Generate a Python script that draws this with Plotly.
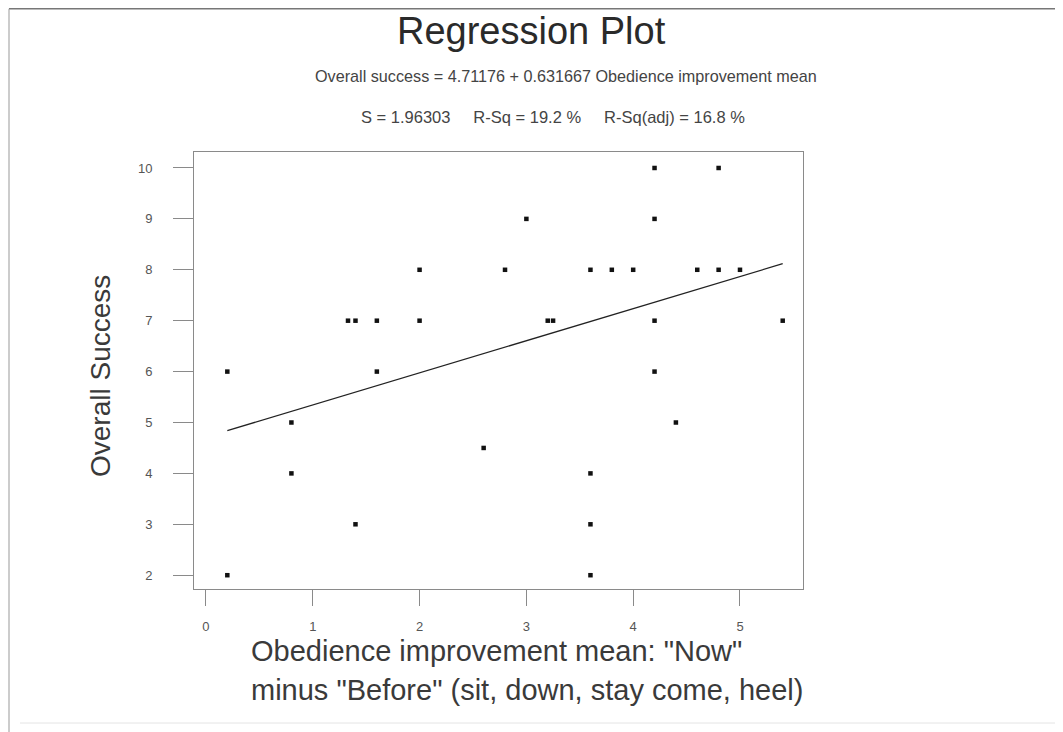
import plotly.graph_objects as go

# ---- data ----
obedience_x = [0.2, 0.2, 0.8, 0.8, 1.33, 1.4, 1.4, 1.6, 1.6, 2.0, 2.0, 2.6, 2.8, 3.0,
               3.2, 3.25, 3.6, 3.6, 3.6, 3.6, 3.8, 4.0, 4.2, 4.2, 4.2, 4.2, 4.4, 4.6,
               4.8, 4.8, 5.0, 5.4]
success_y = [6, 2, 5, 4, 7, 7, 3, 7, 6, 8, 7, 4.5, 8, 9,
             7, 7, 8, 4, 3, 2, 8, 8, 10, 9, 7, 6, 5, 8,
             10, 8, 8, 7]
fit_x = [0.2, 5.4]
fit_y = [4.84, 8.12]

x_ticks = [0, 1, 2, 3, 4, 5]
y_ticks = [2, 3, 4, 5, 6, 7, 8, 9, 10]

title_text = "Regression Plot"
equation_text = "Overall success = 4.71176 + 0.631667 Obedience improvement mean"
stats_text = "S = 1.96303&nbsp;&nbsp;&nbsp;&nbsp;&nbsp;R-Sq = 19.2 %&nbsp;&nbsp;&nbsp;&nbsp;&nbsp;R-Sq(adj) = 16.8 %"
x_title_1 = 'Obedience improvement mean: "Now"'
x_title_2 = 'minus "Before" (sit, down, stay come, heel)'
y_title = "Overall Success"

# ---- layout geometry (screen pixels; the page body adds an 8px offset) ----
OFF = 8
W, H = 1063 - OFF, 732 - OFF
L, R, T, B = 194, 803, 152, 589   # plot frame on screen
PW, PH = R - L, B - T


def px(xs):
    return (xs - L) / PW


def py(ys):
    return (B - ys) / PH


FONT = "Liberation Sans, Arial, sans-serif"

fig = go.Figure()
fig.add_trace(go.Scatter(x=fit_x, y=fit_y, mode="lines",
                         line=dict(color="#222222", width=1.3),
                         showlegend=False, hoverinfo="skip"))
fig.add_trace(go.Scatter(x=obedience_x, y=success_y, mode="markers",
                         marker=dict(symbol="square", size=4.5, color="#111111",
                                     line=dict(width=0)),
                         showlegend=False))

axis_common = dict(showgrid=False, zeroline=False, showline=True, mirror=True,
                   linecolor="#8a8a8a", linewidth=1, ticks="outside",
                   tickcolor="#8a8a8a", tickwidth=1,
                   tickfont=dict(family=FONT, size=13, color="#555555"))

fig.update_layout(
    width=W, height=H, autosize=False,
    margin=dict(l=L - OFF, r=W - (R - OFF), t=T - OFF, b=H - (B - OFF)),
    paper_bgcolor="white", plot_bgcolor="white",
    xaxis=dict(range=[-0.112, 5.59], tickvals=x_ticks, ticklen=16,
               ticklabelstandoff=9, **axis_common),
    yaxis=dict(range=[1.729, 10.314], tickvals=y_ticks, ticklen=20,
               ticklabelstandoff=18, **axis_common),
    font=dict(family=FONT, color="#333333"),
)

annotations = [
    dict(text=title_text, x=px(531), y=py(31), size=38, color="#2a2a2a", anchor="center"),
    dict(text=equation_text, x=px(566), y=py(76), size=16.2, color="#444444", anchor="center"),
    dict(text=stats_text, x=px(553), y=py(117), size=16.5, color="#444444", anchor="center"),
    dict(text=x_title_1, x=px(249), y=py(651), size=29, color="#3a3a3a", anchor="left"),
    dict(text=x_title_2, x=px(249), y=py(690), size=29, color="#3a3a3a", anchor="left"),
]
for a in annotations:
    fig.add_annotation(text=a["text"], x=a["x"], y=a["y"], xref="paper", yref="paper",
                       showarrow=False, xanchor=a["anchor"], yanchor="middle",
                       font=dict(family=FONT, size=a["size"], color=a["color"]))
fig.add_annotation(text=y_title, x=px(100), y=py(376), xref="paper", yref="paper",
                   showarrow=False, textangle=-90, xanchor="center", yanchor="middle",
                   font=dict(family=FONT, size=28, color="#3a3a3a"))

# outer frame of the scanned figure (top edge sits at the top of the canvas)
TOP = OFF + 0.8
border = [
    (9, TOP, 1063, TOP, "#777777", 1.5),
    (9, TOP, 9, 732, "#999999", 1),
    (1061, TOP, 1061, 50, "#999999", 1),
    (20, 723, 1063, 723, "#e4e4e4", 1),
]
for x0, y0, x1, y1, c, w in border:
    fig.add_shape(type="line", xref="paper", yref="paper",
                  x0=px(x0), y0=py(y0), x1=px(x1), y1=py(y1),
                  line=dict(color=c, width=w))

fig.write_html("out.html", config={"displayModeBar": False})
